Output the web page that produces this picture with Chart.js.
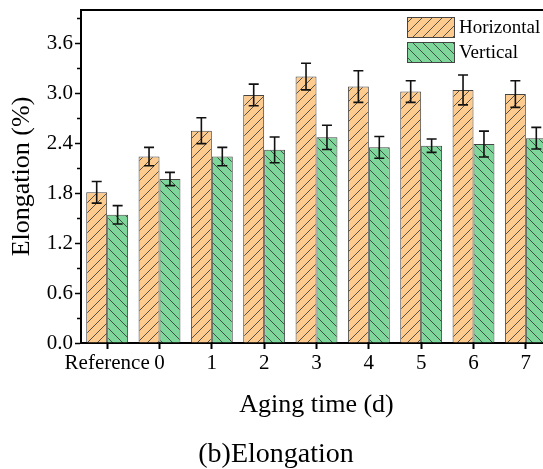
<!DOCTYPE html>
<html>
<head>
<meta charset="utf-8">
<script src="https://cdn.jsdelivr.net/npm/chart.js@4/dist/chart.umd.min.js"></script>
<style>
  html, body { margin: 0; padding: 0; background: #fff; overflow: hidden; }
  #wrap { width: 633px; height: 469px; }
</style>
</head>
<body>
<div id="wrap"><canvas id="elongChart" width="633" height="469"></canvas></div>
<script>
// Data
const categories = ['Reference', '0', '1', '2', '3', '4', '5', '6', '7'];
const horizontal = [1.81, 2.24, 2.55, 2.98, 3.20, 3.08, 3.02, 3.04, 2.99];
const horizontalErr = [0.13, 0.11, 0.155, 0.13, 0.16, 0.19, 0.13, 0.18, 0.16];
const vertical = [1.54, 1.97, 2.24, 2.32, 2.47, 2.35, 2.37, 2.39, 2.46];
const verticalErr = [0.11, 0.08, 0.11, 0.155, 0.145, 0.13, 0.08, 0.155, 0.13];
const yTicks = { min: 0, max: 4.0, step: 0.6, minorStep: 0.3 };

const FONT = "'Liberation Serif', 'Times New Roman', serif";

// Hatch fill like Origin's pattern bars
function makeHatch(bg, dir) {
    const c = document.createElement('canvas');
    c.width = 10; c.height = 10;
    const x = c.getContext('2d');
    x.fillStyle = bg;
    x.fillRect(0, 0, 10, 10);
    x.strokeStyle = 'rgba(50,50,50,0.9)';
    x.lineWidth = 0.9;
    x.beginPath();
    if (dir === '/') {
        x.moveTo(0, 10); x.lineTo(10, 0);
        x.moveTo(-2, 2); x.lineTo(2, -2);
        x.moveTo(8, 12); x.lineTo(12, 8);
    } else {
        x.moveTo(0, 0); x.lineTo(10, 10);
        x.moveTo(-2, 8); x.lineTo(2, 12);
        x.moveTo(8, -2); x.lineTo(12, 2);
    }
    x.stroke();
    return x.createPattern(c, 'repeat');
}

const orangeFill = makeHatch('#FECB8E', '/');
const greenFill = makeHatch('#7ED69A', '\\');

// error bars drawn through the y scale
const errorBars = {
    id: 'errorBars',
    afterDatasetsDraw(chart) {
        const ctx = chart.ctx;
        const y = chart.scales.y;
        ctx.save();
        ctx.strokeStyle = '#111';
        ctx.lineWidth = 1.6;
        chart.data.datasets.forEach((ds, i) => {
            const meta = chart.getDatasetMeta(i);
            meta.data.forEach((bar, j) => {
                const v = ds.data[j], e = ds.errors[j];
                const top = y.getPixelForValue(v + e);
                const bot = y.getPixelForValue(v - e);
                ctx.beginPath();
                ctx.moveTo(bar.x, top); ctx.lineTo(bar.x, bot);
                ctx.moveTo(bar.x - 5, top); ctx.lineTo(bar.x + 5, top);
                ctx.moveTo(bar.x - 5, bot); ctx.lineTo(bar.x + 5, bot);
                ctx.stroke();
            });
        });
        ctx.restore();
    }
};

// top frame, minor ticks, legend inside the plot
const frameAndLegend = {
    id: 'frameAndLegend',
    afterDraw(chart) {
        const ctx = chart.ctx;
        const area = chart.chartArea;
        const y = chart.scales.y;
        ctx.save();
        ctx.strokeStyle = '#000';
        ctx.lineWidth = 2;
        ctx.beginPath();
        ctx.moveTo(area.left - 1, area.top);
        ctx.lineTo(area.right, area.top);
        ctx.stroke();

        ctx.lineWidth = 1.5;
        ctx.beginPath();
        for (let v = yTicks.minorStep; v < yTicks.max; v += yTicks.step) {
            const py = Math.round(y.getPixelForValue(v)) + 0.5;
            ctx.moveTo(area.left - 4, py);
            ctx.lineTo(area.left, py);
        }
        ctx.stroke();

        const items = [
            { label: 'Horizontal', fill: orangeFill, top: 17 },
            { label: 'Vertical', fill: greenFill, top: 42 }
        ];
        ctx.font = '19px ' + FONT;
        ctx.textBaseline = 'middle';
        ctx.textAlign = 'left';
        items.forEach(it => {
            ctx.fillStyle = it.fill;
            ctx.fillRect(407, it.top, 48, 21);
            ctx.strokeStyle = '#444';
            ctx.lineWidth = 1;
            ctx.strokeRect(407.5, it.top + 0.5, 47, 20);
            ctx.fillStyle = '#000';
            ctx.fillText(it.label, 459, it.top + 11);
        });
        ctx.restore();
    }
};

const ctx = document.getElementById('elongChart').getContext('2d');
const elongChart = new Chart(ctx, {
    type: 'bar',
    data: {
        labels: categories,
        datasets: [{
            label: 'Horizontal',
            data: horizontal,
            errors: horizontalErr,
            backgroundColor: orangeFill,
            borderColor: '#444',
            borderWidth: 1
        }, {
            label: 'Vertical',
            data: vertical,
            errors: verticalErr,
            backgroundColor: greenFill,
            borderColor: '#444',
            borderWidth: 1
        }]
    },
    options: {
        responsive: false,
        animation: false,
        devicePixelRatio: 1,
        datasets: {
            bar: { categoryPercentage: 0.8, barPercentage: 1.0 }
        },
        layout: { padding: { top: 10, left: 0, right: 81, bottom: 0 } },
        plugins: {
            legend: { display: false },
            tooltip: { enabled: false },
            title: {
                display: true,
                position: 'bottom',
                text: '(b)Elongation',
                color: '#000',
                font: { family: FONT, size: 28, weight: 'normal', lineHeight: 1.0 },
                padding: { top: 0, bottom: 0 }
            }
        },
        scales: {
            x: {
                afterFit(scale) { scale.height = 98; },
                grid: {
                    offset: false,
                    drawOnChartArea: false,
                    drawTicks: true,
                    tickLength: 6,
                    tickColor: '#000',
                    tickWidth: 2
                },
                border: { display: true, color: '#000', width: 2 },
                ticks: {
                    autoSkip: false,
                    maxRotation: 0,
                    padding: 2,
                    color: '#000',
                    font: { family: FONT, size: 21 }
                },
                title: {
                    display: true,
                    text: 'Aging time (d)',
                    color: '#000',
                    font: { family: FONT, size: 26 },
                    padding: { top: 0, bottom: 20 }
                }
            },
            y: {
                min: yTicks.min,
                max: yTicks.max,
                afterFit(scale) {
                    scale.width = 81;
                    scale.paddingTop = 0;
                    scale.paddingBottom = 0;
                },
                grid: {
                    drawOnChartArea: false,
                    drawTicks: true,
                    tickLength: 6,
                    tickColor: '#000',
                    tickWidth: 1.5
                },
                border: { display: true, color: '#000', width: 2 },
                ticks: {
                    stepSize: yTicks.step,
                    includeBounds: false,
                    padding: 2,
                    color: '#000',
                    font: { family: FONT, size: 21 },
                    callback: v => Number(v).toFixed(1)
                },
                title: {
                    display: true,
                    text: 'Elongation (%)',
                    color: '#000',
                    font: { family: FONT, size: 26 },
                    padding: { top: 7, bottom: 0 }
                }
            }
        }
    },
    plugins: [errorBars, frameAndLegend]
});
</script>
</body>
</html>
